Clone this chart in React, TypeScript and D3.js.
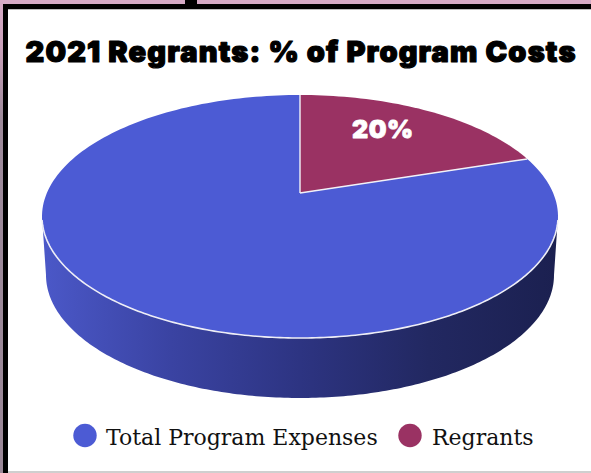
import React from "react";
import * as d3 from "d3";

const categories = ["Total Program Expenses", "Regrants"];
const values = [80, 20];
const colors = ["#4c5bd4", "#9a3263"];
const titleText = "2021 Regrants: % of Program Costs";
const sliceLabels = ["", "20%"];

const W = 591;
const H = 473;
// top face ellipse (perspective)
const CX = 300;
const CY = 216.5;
const RX = 258;
const RY = 121.5;
const T = -0.193; // perspective shift of centre
// bottom ellipse of side
const BCX = 300;
const BCY = 275;
const BRX = 254;
const BRY = 123;

function proj(a: number, r = 1): [number, number] {
  const u = r * Math.sin(a);
  const v = -r * Math.cos(a);
  const den = 1 + T * v;
  const up = (u * Math.sqrt(1 - T * T)) / den;
  const vp = (v + T) / den;
  return [CX + RX * up, CY + RY * vp];
}

function slicePath(a0: number, a1: number): string {
  const pts: [number, number][] = [];
  const n = Math.max(8, Math.ceil(((a1 - a0) / (2 * Math.PI)) * 240));
  for (let i = 0; i <= n; i++) pts.push(proj(a0 + ((a1 - a0) * i) / n));
  const c = proj(0, 0);
  return "M" + c.join(",") + "L" + pts.map((p) => p.join(",")).join("L") + "Z";
}

function sidePath(): string {
  const pts: [number, number][] = [];
  const n = 200;
  for (let i = 0; i <= n; i++) {
    const th = (i / n) * Math.PI;
    pts.push([CX + RX * Math.cos(th), CY + RY * Math.sin(th)]);
  }
  for (let i = n; i >= 0; i--) {
    const th = (i / n) * Math.PI;
    pts.push([BCX + BRX * Math.cos(th), BCY + BRY * Math.sin(th)]);
  }
  return "M" + pts.map((p) => p.join(",")).join("L") + "Z";
}

function frontEdge(): string {
  const pts: [number, number][] = [];
  const n = 200;
  for (let i = 0; i <= n; i++) {
    const th = 0.03 + (i / n) * (Math.PI - 0.06);
    pts.push([CX + RX * Math.cos(th), CY + RY * Math.sin(th)]);
  }
  return "M" + pts.map((p) => p.join(",")).join("L");
}

export default function App() {
  const total = d3.sum(values);
  const start = (-values[0] / total) * 2 * Math.PI;
  const arcs = d3
    .pie<number>()
    .sort(null)
    .startAngle(start)
    .endAngle(start + 2 * Math.PI)(values);

  const apex = proj(0, 0);

  return (
    <div style={{ position: "fixed", left: 0, top: 0 }}>
      <svg width={W} height={H} style={{ display: "block" }}>
        <defs>
          <linearGradient id="leftStrip" x1="0" y1="0" x2="0" y2={H} gradientUnits="userSpaceOnUse">
            <stop offset="0" stopColor="#d6abc6" />
            <stop offset="0.1" stopColor="#c9a1ba" />
            <stop offset="0.25" stopColor="#9d8a9a" />
            <stop offset="1" stopColor="#9a8898" />
          </linearGradient>
          <linearGradient id="sideGrad" x1={CX - RX} y1="0" x2={CX + RX} y2="0" gradientUnits="userSpaceOnUse">
            <stop offset="0" stopColor="#4b58c8" />
            <stop offset="0.25" stopColor="#3a43a2" />
            <stop offset="0.5" stopColor="#2d3482" />
            <stop offset="0.75" stopColor="#222861" />
            <stop offset="1" stopColor="#1b2050" />
          </linearGradient>
        </defs>
        <rect x={0} y={0} width={W} height={H} fill="#ffffff" />
        {/* frame */}
        <rect x={0} y={0} width={W} height={4} fill="#d6abc6" />
        <rect x={0} y={0} width={3} height={H} fill="url(#leftStrip)" />
        <rect x={185} y={0} width={12} height={5} fill="#000" />
        <rect x={3} y={4} width={W - 3} height={5} fill="#000" />
        <rect x={8} y={9} width={W - 8} height={1} fill="#bdbdbd" />
        <rect x={3} y={4} width={5} height={H - 4} fill="#000" />
        <rect x={8} y={471} width={W - 8} height={2} fill="#cfcfcf" />

        {/* title */}
        <text
          x={300.5}
          y={61.5}
          textAnchor="middle"
          fontFamily="Inter, 'DejaVu Sans', sans-serif"
          fontWeight={900}
          fontSize={29}
          textLength={550}
          lengthAdjust="spacing"
          fill="#000"
          stroke="#000"
          strokeWidth={1.2}
          strokeLinejoin="round"
        >
          {titleText}
        </text>

        {/* side */}
        <path d={sidePath()} fill="url(#sideGrad)" />
        {/* top slices */}
        {arcs.map((a, i) => (
          <path key={i} d={slicePath(a.startAngle, a.endAngle)} fill={colors[i]} />
        ))}
        {/* slice borders */}
        {arcs.map((a, i) => {
          const p = proj(a.startAngle);
          return (
            <line
              key={"b" + i}
              x1={apex[0]}
              y1={apex[1]}
              x2={p[0]}
              y2={p[1]}
              stroke="#f2f2f8"
              strokeWidth={1.4}
            />
          );
        })}
        <path d={frontEdge()} fill="none" stroke="#eeeef6" strokeWidth={1.6} />

        {/* labels */}
        {arcs.map((a, i) => {
          if (!sliceLabels[i]) return null;
          const mid = a.startAngle + (a.endAngle - a.startAngle) * 0.43;
          const p = proj(mid, 0.72);
          return (
            <text
              key={"l" + i}
              x={p[0] - 1}
              y={p[1] + 9.5}
              textAnchor="middle"
              fontFamily="Inter, 'DejaVu Sans', sans-serif"
              fontWeight={900}
              fontSize={25}
              fill="#fff"
              stroke="#fff"
              strokeWidth={0.8}
              strokeLinejoin="round"
              letterSpacing={0.5}
            >
              {sliceLabels[i]}
            </text>
          );
        })}

        {/* legend */}
        {categories.map((c, i) => {
          const cxs = [85, 410];
          const txs = [106, 432];
          return (
            <g key={"lg" + i}>
              <circle cx={cxs[i]} cy={435.5} r={11.7} fill={colors[i]} />
              <text
                x={txs[i]}
                y={445}
                fontFamily="'DejaVu Serif', serif"
                fontSize={22}
                fill="#111"
              >
                {c}
              </text>
            </g>
          );
        })}
      </svg>
    </div>
  );
}
